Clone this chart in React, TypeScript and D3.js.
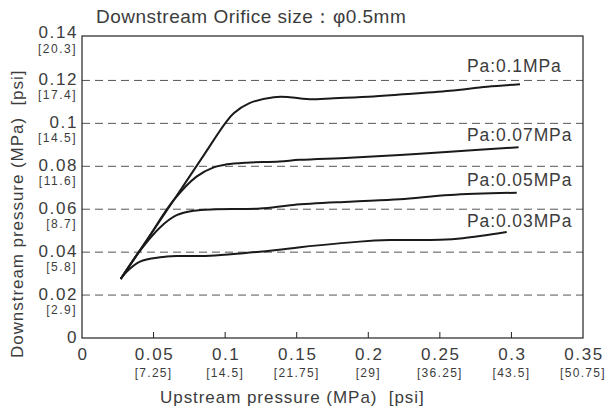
import * as d3 from "d3";
import { useRef, useEffect } from "react";

// upstream pressure (MPa) / downstream pressure (MPa)
const upstream01: number[] = [0.027, 0.045, 0.065, 0.085, 0.1, 0.106, 0.117, 0.134, 0.145, 0.157, 0.176, 0.2, 0.222, 0.257, 0.283, 0.306];
const downstream01: number[] = [0.0275, 0.0453, 0.0651, 0.0851, 0.1, 0.1047, 0.1094, 0.1122, 0.1122, 0.1113, 0.1117, 0.1124, 0.1134, 0.1152, 0.1171, 0.1182];

const upstream007: number[] = [0.027, 0.045, 0.064, 0.08, 0.092, 0.101, 0.115, 0.138, 0.152, 0.187, 0.222, 0.257, 0.305];
const downstream007: number[] = [0.0275, 0.0453, 0.0642, 0.0752, 0.0795, 0.0809, 0.0817, 0.0822, 0.083, 0.084, 0.0853, 0.0868, 0.0889];

const upstream005: number[] = [0.027, 0.04, 0.0545, 0.0661, 0.0778, 0.094, 0.1244, 0.1476, 0.187, 0.222, 0.257, 0.3037];
const downstream005: number[] = [0.0275, 0.0402, 0.0515, 0.0572, 0.0593, 0.06, 0.0603, 0.062, 0.0635, 0.0646, 0.0666, 0.0677];

const upstream003: number[] = [0.027, 0.0312, 0.0405, 0.0545, 0.0661, 0.0894, 0.1127, 0.136, 0.1524, 0.194, 0.2152, 0.25, 0.266, 0.2967];
const downstream003: number[] = [0.0275, 0.0309, 0.0356, 0.0376, 0.0382, 0.0383, 0.0395, 0.041, 0.0423, 0.0449, 0.0456, 0.0458, 0.0465, 0.0494];

const seriesNames: string[] = ["Pa:0.1MPa", "Pa:0.07MPa", "Pa:0.05MPa", "Pa:0.03MPa"];

const yTicks: number[] = [0, 0.02, 0.04, 0.06, 0.08, 0.1, 0.12, 0.14];
const yTickLabels: string[] = ["0", "0.02", "0.04", "0.06", "0.08", "0.1", "0.12", "0.14"];
const yPsiLabels: string[] = ["", "[2.9]", "[5.8]", "[8.7]", "[11.6]", "[14.5]", "[17.4]", "[20.3]"];

const xTicks: number[] = [0, 0.05, 0.1, 0.15, 0.2, 0.25, 0.3, 0.35];
const xTickLabels: string[] = ["0", "0.05", "0.1", "0.15", "0.2", "0.25", "0.3", "0.35"];
const xPsiLabels: string[] = ["", "[7.25]", "[14.5]", "[21.75]", "[29]", "[36.25]", "[43.5]", "[50.75]"];

const title = "Downstream Orifice size：φ0.5mm";
const xTitle = "Upstream pressure (MPa)  [psi]";
const yTitle = "Downstream pressure (MPa)  [psi]";

export default function App() {
  const svgRef: any = useRef();

  useEffect(() => {
    const w = 608;
    const h = 411;
    const font = "'Liberation Sans', Arial, sans-serif";
    const textColor = "#3c3c3c";

    const svg = d3.select(svgRef.current).attr("width", w).attr("height", h);
    svg.selectAll("*").remove();

    const xScale = d3.scaleLinear().domain([0, 0.35]).range([82, 583]);
    const yScale = d3.scaleLinear().domain([0, 0.14]).range([338, 37.5]);

    // dashed grid
    svg
      .append("g")
      .selectAll("line")
      .data(yTicks.filter((t) => t > 0 && t < 0.14))
      .join("line")
      .attr("x1", xScale(0))
      .attr("x2", xScale(0.35))
      .attr("y1", (d) => yScale(d))
      .attr("y2", (d) => yScale(d))
      .attr("stroke", "#555")
      .attr("stroke-width", 1)
      .attr("stroke-dasharray", "8,5");

    // frame
    svg
      .append("rect")
      .attr("x", xScale(0))
      .attr("y", 36)
      .attr("width", xScale(0.35) - xScale(0))
      .attr("height", yScale(0) - 36)
      .attr("fill", "none")
      .attr("stroke", "#222")
      .attr("stroke-width", 1.2);

    // inner x ticks
    svg
      .append("g")
      .selectAll("line")
      .data(xTicks.filter((t) => t > 0 && t < 0.35))
      .join("line")
      .attr("x1", (d) => xScale(d))
      .attr("x2", (d) => xScale(d))
      .attr("y1", yScale(0))
      .attr("y2", yScale(0) - 6)
      .attr("stroke", "#222");

    // y tick labels
    const yl = svg.append("g").attr("font-family", font).attr("fill", textColor).attr("text-anchor", "end");
    yl.selectAll("text.main")
      .data(yTicks)
      .join("text")
      .attr("class", "main")
      .attr("x", 78)
      .attr("y", (d) => yScale(d) + (d === 0.14 ? 0 : 5))
      .attr("font-size", 17)
      .attr("letter-spacing", 1.6)
      .text((d, i) => yTickLabels[i]);
    yl.selectAll("text.psi")
      .data(yTicks)
      .join("text")
      .attr("class", "psi")
      .attr("x", 77)
      .attr("y", (d) => yScale(d) + (d === 0.14 ? 15 : 19))
      .attr("font-size", 12)
      .attr("letter-spacing", 1.5)
      .text((d, i) => yPsiLabels[i]);

    // x tick labels
    const xl = svg.append("g").attr("font-family", font).attr("fill", textColor).attr("text-anchor", "middle");
    xl.selectAll("text.main")
      .data(xTicks)
      .join("text")
      .attr("class", "main")
      .attr("x", (d) => xScale(d) + 1)
      .attr("y", 360)
      .attr("font-size", 17)
      .attr("letter-spacing", 1.6)
      .text((d, i) => xTickLabels[i]);
    xl.selectAll("text.psi")
      .data(xTicks)
      .join("text")
      .attr("class", "psi")
      .attr("x", (d) => xScale(d))
      .attr("y", 377)
      .attr("font-size", 12)
      .attr("letter-spacing", 1.3)
      .text((d, i) => xPsiLabels[i]);

    // titles
    svg
      .append("text")
      .attr("x", 96)
      .attr("y", 23)
      .attr("font-family", font)
      .attr("font-size", 19)
      .attr("letter-spacing", 0.5)
      .attr("fill", textColor)
      .text(title);
    svg
      .append("text")
      .attr("x", 160)
      .attr("y", 403)
      .attr("font-family", font)
      .attr("font-size", 17)
      .attr("letter-spacing", 0.95)
      .attr("fill", textColor)
      .style("white-space", "pre")
      .text(xTitle);
    svg
      .append("text")
      .attr("transform", "translate(23, 358) rotate(-90)")
      .attr("font-family", font)
      .attr("font-size", 17)
      .attr("letter-spacing", 0.95)
      .attr("fill", textColor)
      .style("white-space", "pre")
      .text(yTitle);

    // curves
    const series = [
      { name: seriesNames[0], xs: upstream01, ys: downstream01 },
      { name: seriesNames[1], xs: upstream007, ys: downstream007 },
      { name: seriesNames[2], xs: upstream005, ys: downstream005 },
      { name: seriesNames[3], xs: upstream003, ys: downstream003 },
    ];

    series.forEach((s) => {
      const pts: [number, number][] = s.xs.map((v, i) => [v, s.ys[i]]);
      const line = d3
        .line<[number, number]>()
        .x((d) => xScale(d[0]))
        .y((d) => yScale(d[1]))
        .curve(d3.curveCatmullRom.alpha(0.5));
      svg
        .append("path")
        .attr("d", line(pts))
        .attr("fill", "none")
        .attr("stroke", "#1a1a1a")
        .attr("stroke-width", 2)
        .attr("stroke-linejoin", "round");
    });

    // series labels, placed just above the end of each curve
    const labelLift = [12, 6, 7, 5];
    svg
      .append("g")
      .selectAll("text")
      .data(series)
      .join("text")
      .attr("x", 467)
      .attr("y", (d, i) => yScale(d.ys[d.ys.length - 1]) - labelLift[i])
      .attr("font-family", font)
      .attr("font-size", 17.5)
      .attr("letter-spacing", 0.9)
      .attr("fill", textColor)
      .text((d) => d.name);
  }, []);

  return (
    <div className="orifice-chart">
      <svg ref={svgRef} style={{ position: "absolute", left: 0, top: 0 }}></svg>
    </div>
  );
}
